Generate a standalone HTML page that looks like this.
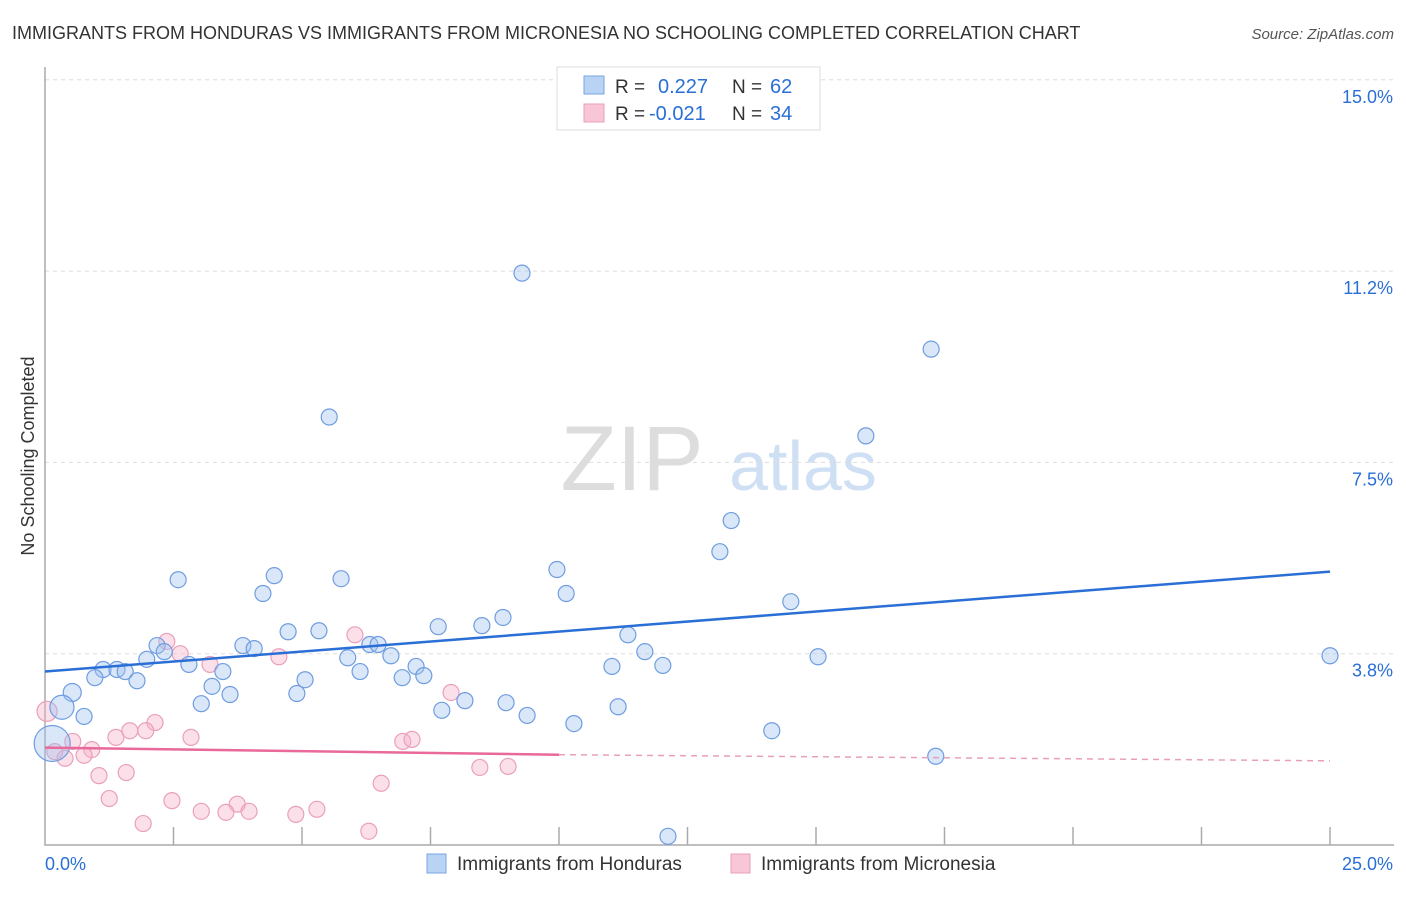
<!DOCTYPE html>
<html><head><meta charset="utf-8"><style>
body{margin:0;background:#fff;font-family:"Liberation Sans",sans-serif}
svg text{font-family:"Liberation Sans",sans-serif}
</style></head><body>
<svg id="chart" width="1406" height="892" xmlns="http://www.w3.org/2000/svg">
<text x="12" y="39" font-size="18" fill="#333">IMMIGRANTS FROM HONDURAS VS IMMIGRANTS FROM MICRONESIA NO SCHOOLING COMPLETED CORRELATION CHART</text>
<text x="1394" y="39" font-size="15" fill="#555" text-anchor="end" font-style="italic">Source: ZipAtlas.com</text>
<g>
<text x="632" y="490" font-size="92" fill="#ddd" text-anchor="middle" font-family="Liberation Serif">ZIP</text>
<text x="803" y="490" font-size="70" fill="#cfe0f5" text-anchor="middle">atlas</text>
</g>
<text transform="translate(34,456) rotate(-90)" font-size="18" fill="#333" text-anchor="middle">No Schooling Completed</text>
<g id="grid"></g><g id="axes"></g><g id="marks"></g>
<g>
<rect x="557" y="67" width="263" height="63" fill="#fff" stroke="#ddd"/>
<rect x="584" y="76" width="20" height="18" fill="#b9d3f5" stroke="#7aa6e0"/>
<rect x="584" y="104" width="20" height="18" fill="#f8c6d6" stroke="#eaa0bb"/>
<text x="615" y="93" font-size="19" fill="#333">R =</text><text x="658" y="93" font-size="20" fill="#2a6fd6">0.227</text>
<text x="732" y="93" font-size="19" fill="#333">N =</text><text x="770" y="93" font-size="20" fill="#2a6fd6">62</text>
<text x="615" y="120" font-size="19" fill="#333">R =</text><text x="649" y="120" font-size="20" fill="#2a6fd6">-0.021</text>
<text x="732" y="120" font-size="19" fill="#333">N =</text><text x="770" y="120" font-size="20" fill="#2a6fd6">34</text>
</g>
<g>
<rect x="427" y="854" width="19" height="19" fill="#b9d3f5" stroke="#7aa6e0"/>
<text x="457" y="870" font-size="19" fill="#333">Immigrants from Honduras</text>
<rect x="731" y="854" width="19" height="19" fill="#f8c6d6" stroke="#eaa0bb"/>
<text x="761" y="870" font-size="19" fill="#333">Immigrants from Micronesia</text>
</g>
</svg>
<script>
const yTicks=[3.75,7.5,11.25,15];
const yTickLabels=["3.8%","7.5%","11.2%","15.0%"];
const xTickCount=10;
const hondurasX=[9.28,17.24,5.53,15.97,13.35,13.13,2.59,4.46,5.76,9.96,4.24,10.14,14.51,8.91,8.50,7.65,4.73,5.33,11.34,2.18,3.85,6.32,6.48,4.07,2.32,11.67,1.98,5.89,6.73,15.04,25.0,2.80,11.03,12.02,7.22,1.13,1.40,1.56,0.97,1.79,3.46,5.06,6.13,6.95,7.37,3.25,0.53,3.60,4.90,3.04,8.17,8.97,7.72,11.15,0.33,0.76,9.38,10.29,14.14,0.14,17.33,12.12];
const hondurasY=[11.21,9.72,8.39,8.02,6.36,5.75,5.20,5.28,5.22,5.40,4.93,4.93,4.77,4.46,4.30,4.28,4.18,4.20,4.12,3.91,3.91,3.93,3.93,3.85,3.79,3.79,3.64,3.67,3.71,3.69,3.71,3.54,3.50,3.52,3.50,3.44,3.44,3.40,3.28,3.22,3.40,3.24,3.40,3.28,3.32,3.11,2.99,2.95,2.97,2.77,2.83,2.79,2.64,2.71,2.70,2.52,2.54,2.38,2.24,1.99,1.74,0.17];
const micronesiaX=[0.04,2.37,2.63,3.21,4.55,6.03,7.90,2.14,1.65,1.38,1.96,2.84,0.54,0.91,0.19,0.39,0.76,6.96,7.14,1.05,1.58,8.46,9.01,6.54,1.25,2.47,3.74,3.04,3.52,3.97,4.88,5.29,1.91,6.30];
const micronesiaY=[2.62,3.99,3.75,3.54,3.69,4.12,2.99,2.40,2.24,2.11,2.24,2.11,2.03,1.87,1.83,1.70,1.76,2.03,2.07,1.36,1.42,1.52,1.54,1.21,0.91,0.87,0.80,0.66,0.64,0.66,0.60,0.70,0.42,0.27];
const hondurasTrend=[[0,3.40],[25,5.36]];
const micronesiaTrend=[[0,1.91],[10,1.77],[25,1.65]];
const NS="http://www.w3.org/2000/svg";
const X0=45,X1=1330,Y0=845,YS=191.3/3.75;
const sx=v=>X0+(X1-X0)*v/25, sy=v=>Y0-v*YS;
function mk(tag,attrs,parent){const e=document.createElementNS(NS,tag);for(const k in attrs)e.setAttribute(k,attrs[k]);parent.appendChild(e);return e;}
const grid=document.getElementById('grid'),axes=document.getElementById('axes'),marks=document.getElementById('marks');
yTicks.forEach((t,i)=>{
 const l=mk('line',{x1:X0,x2:1394,y1:sy(t),y2:sy(t),stroke:'#ddd','stroke-dasharray':'4,4'},grid);
 
 
 const tx=mk('text',{x:1393,y:sy(t)+23,'font-size':18,fill:'#2a6fd6','text-anchor':'end'},axes);
 tx.textContent=yTickLabels[i];
 
 
});
const ax=mk('path',{d:`M${X0} 67 V${Y0} H1394`,stroke:'#aaa',fill:'none','stroke-width':1.5},axes);


for(let i=1;i<=xTickCount;i++){
 const x=sx(25*i/xTickCount);
 const t=mk('line',{x1:x,x2:x,y1:Y0-18,y2:Y0,stroke:'#aaa','stroke-width':1.5},axes);
 
 
}
[["0.0%",45,'start'],["25.0%",1393,'end']].forEach(([s,x,a])=>{
 const t=mk('text',{x:x,y:870,'font-size':18,fill:'#2a6fd6','text-anchor':a},axes);t.textContent=s;
 
 
});
function dots(xs,ys,fill,stroke,name,big){
 xs.forEach((v,i)=>{
  const r=big[i]||8;
  const c=mk('circle',{cx:sx(v),cy:sy(ys[i]),r:r,fill:fill,stroke:stroke,'stroke-width':1.2},marks);
  
  
 });
}
dots(micronesiaX,micronesiaY,'rgba(245,175,200,0.4)','#eaa0bb','micronesia-point',{0:10});
dots(hondurasX,hondurasY,'rgba(160,195,240,0.4)','#6f9de0','honduras-point',{59:18,54:12,46:9});
const bt=mk('line',{x1:sx(hondurasTrend[0][0]),y1:sy(hondurasTrend[0][1]),x2:sx(hondurasTrend[1][0]),y2:sy(hondurasTrend[1][1]),stroke:'#2a6fd6','stroke-width':2.5},marks);


const pt=mk('line',{x1:sx(micronesiaTrend[0][0]),y1:sy(micronesiaTrend[0][1]),x2:sx(micronesiaTrend[1][0]),y2:sy(micronesiaTrend[1][1]),stroke:'#e8699a','stroke-width':2.5},marks);


const pd=mk('line',{x1:sx(micronesiaTrend[1][0]),y1:sy(micronesiaTrend[1][1]),x2:sx(micronesiaTrend[2][0]),y2:sy(micronesiaTrend[2][1]),stroke:'#e8a0ba','stroke-width':1.5,'stroke-dasharray':'6,5'},marks);


</script>
</body></html>
